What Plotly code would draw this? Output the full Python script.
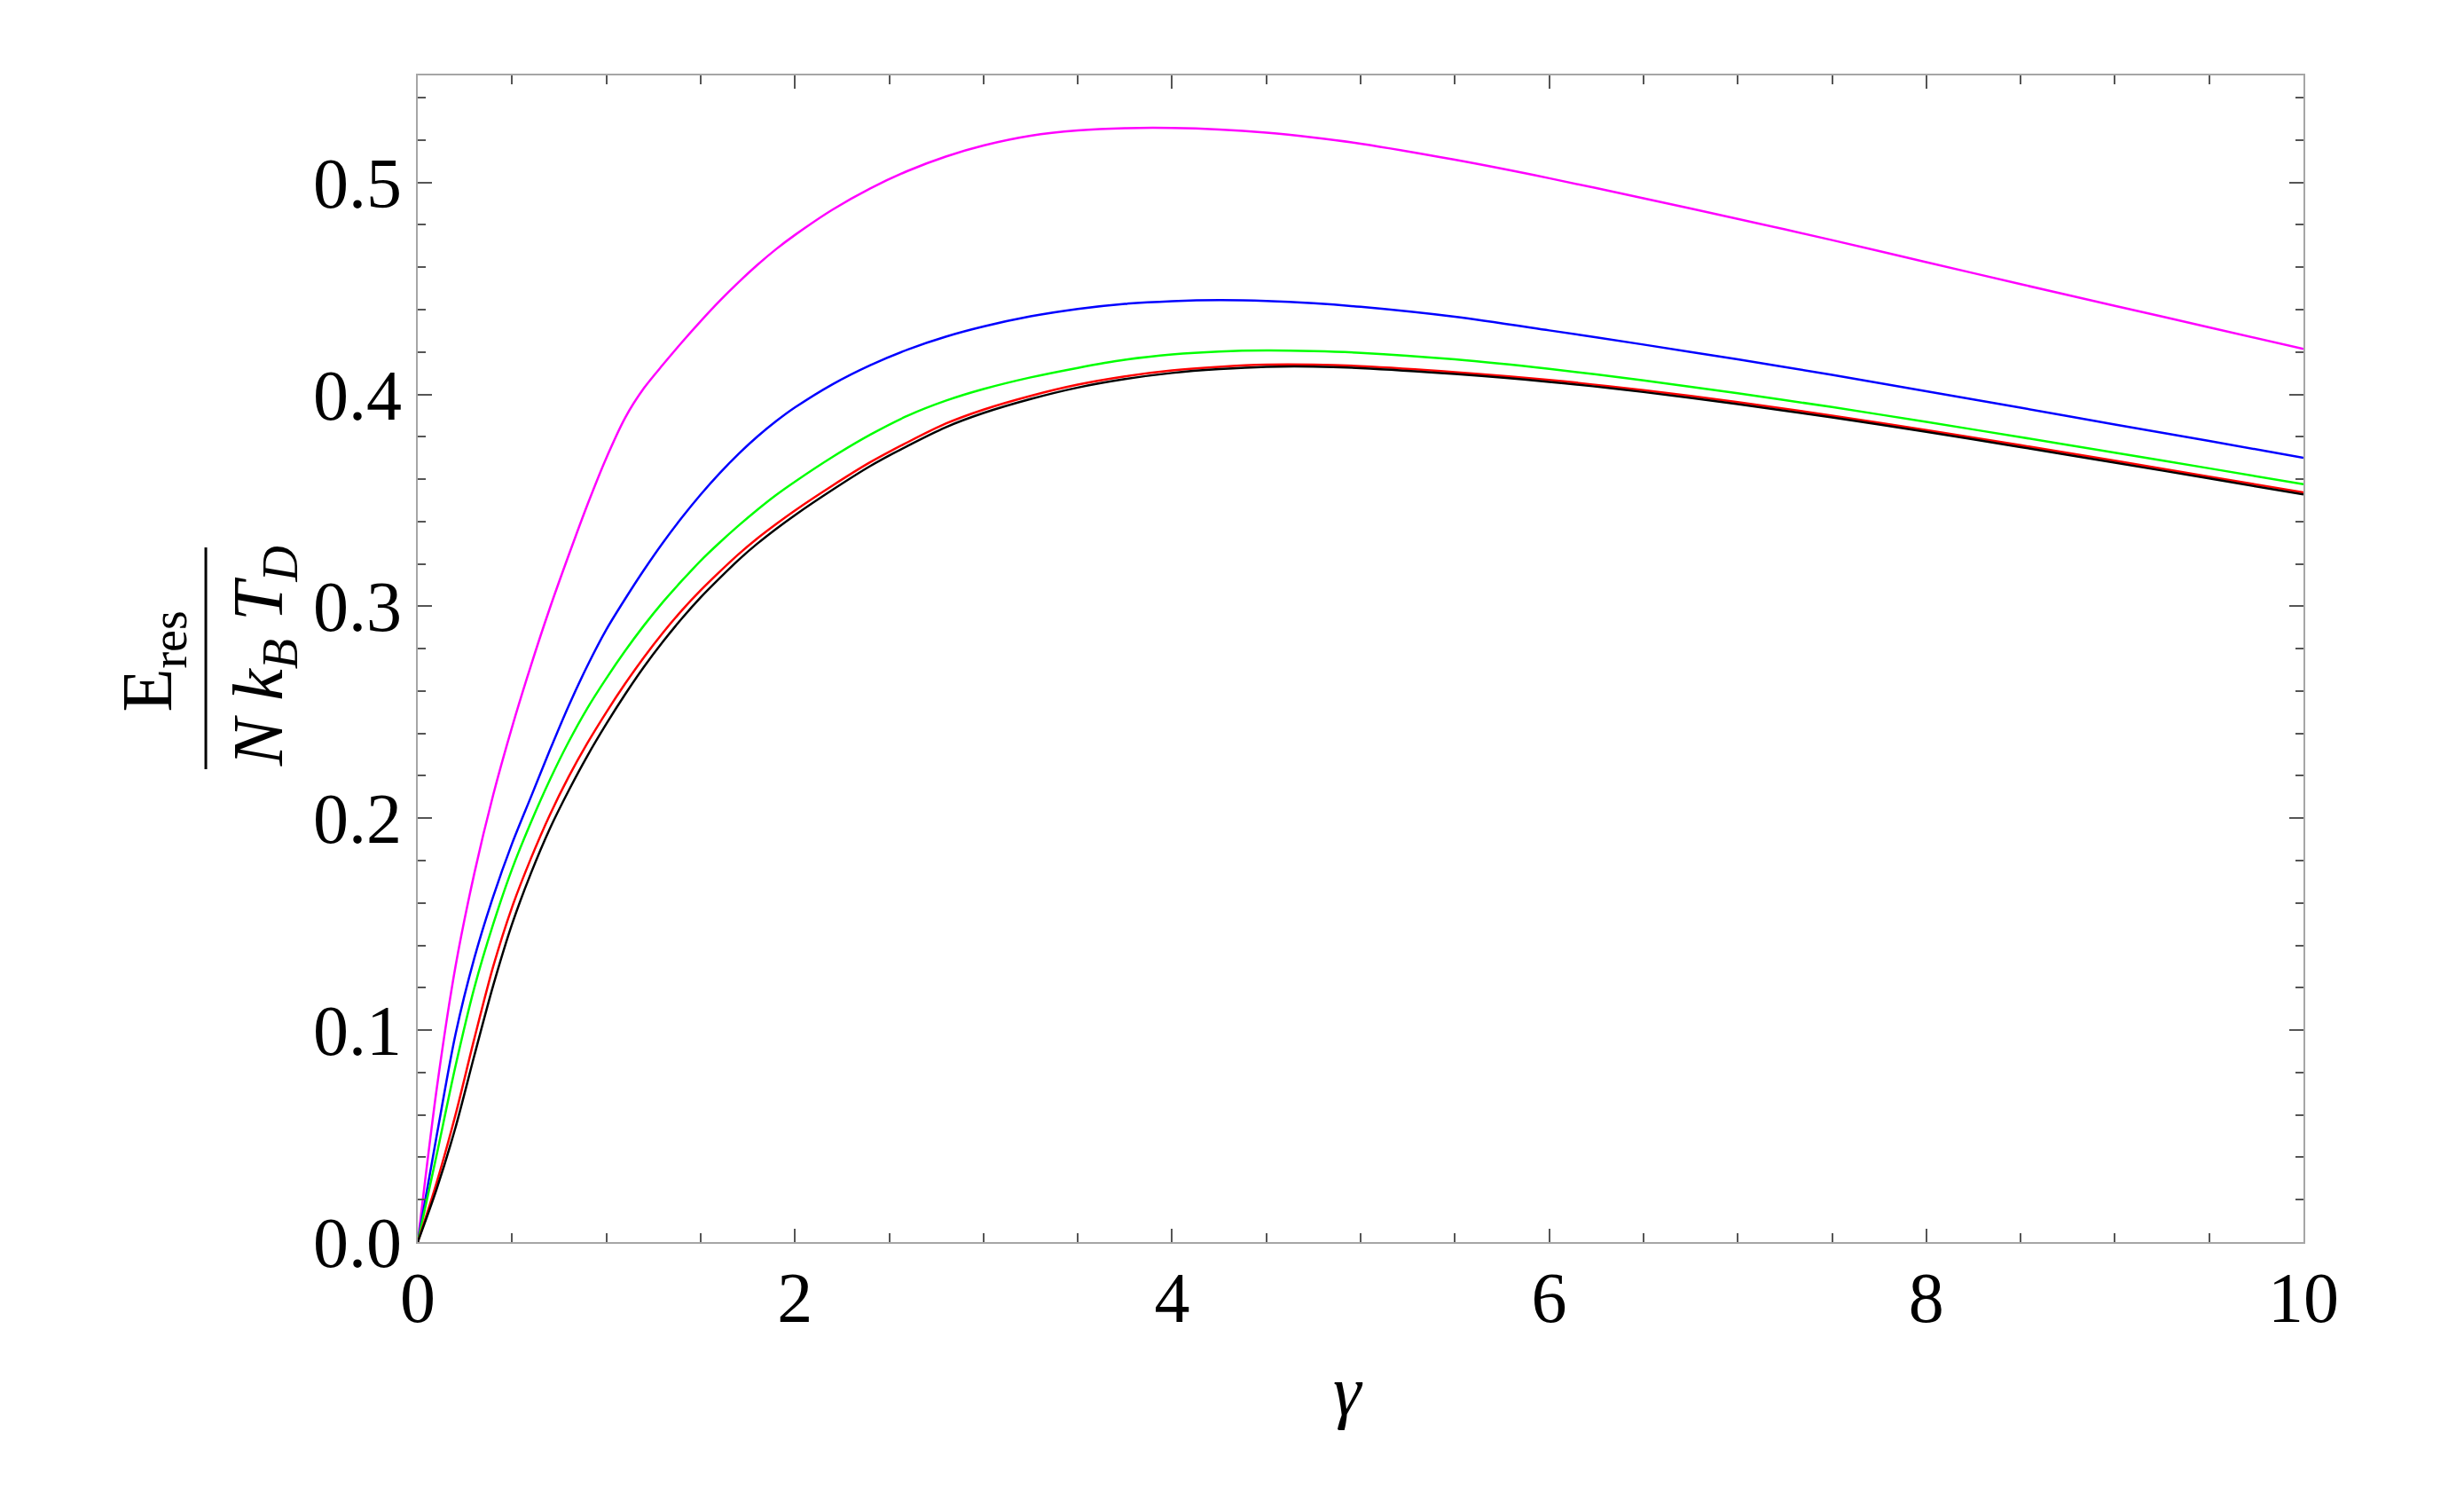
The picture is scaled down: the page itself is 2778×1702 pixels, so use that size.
import plotly.graph_objects as go

# gamma grid shared by all curves
gamma = [0, 0.1, 0.2, 0.3, 0.4, 0.5, 0.6, 0.7, 0.8, 0.9, 1.0, 1.1, 1.2, 1.3, 1.4,
         1.5, 1.6, 1.7, 1.8, 1.9, 2.0, 2.2, 2.4, 2.6, 2.8, 3.0, 3.25, 3.5, 3.75,
         4.0, 4.25, 4.5, 4.75, 5.0, 5.5, 6.0, 6.5, 7.0, 7.5, 8.0, 8.5, 9.0, 9.5, 10.0]

e_magenta = [0, 0.072, 0.130, 0.174, 0.211, 0.243, 0.272, 0.299, 0.324, 0.348, 0.370,
             0.389, 0.403, 0.414, 0.4245, 0.4345, 0.444, 0.4528, 0.461, 0.4685, 0.4752,
             0.4872, 0.4972, 0.5055, 0.5122, 0.5174, 0.522, 0.5245, 0.5256, 0.5257, 0.525,
             0.5235, 0.5212, 0.5183, 0.5107, 0.502, 0.4925, 0.4828, 0.4728, 0.4624, 0.452,
             0.4418, 0.4316, 0.4214]
e_blue = [0, 0.050, 0.098, 0.134, 0.163, 0.188, 0.210, 0.232, 0.253, 0.272, 0.289,
          0.3035, 0.3172, 0.330, 0.3418, 0.3527, 0.3627, 0.3718, 0.380, 0.3873, 0.3938,
          0.4048, 0.4138, 0.4212, 0.4272, 0.432, 0.4368, 0.4403, 0.4427, 0.444, 0.4445,
          0.4441, 0.443, 0.4413, 0.4366, 0.4302, 0.4235, 0.4165, 0.4092, 0.4015, 0.3937,
          0.3858, 0.378, 0.3701]
e_green = [0, 0.041, 0.083, 0.120, 0.150, 0.176, 0.198, 0.218, 0.236, 0.252, 0.266,
           0.279, 0.291, 0.302, 0.312, 0.3215, 0.330, 0.338, 0.3455, 0.3525, 0.3588,
           0.3705, 0.381, 0.390, 0.397, 0.4025, 0.408, 0.4125, 0.4163, 0.4188, 0.4202,
           0.4207, 0.4204, 0.4196, 0.4165, 0.412, 0.4066, 0.4005, 0.394, 0.387, 0.3798,
           0.3725, 0.3651, 0.3576]
e_red = [0, 0.028, 0.060, 0.096, 0.130, 0.158, 0.181, 0.2015, 0.2195, 0.2355, 0.250,
         0.2635, 0.276, 0.2875, 0.298, 0.3075, 0.3162, 0.3245, 0.332, 0.3388, 0.3452,
         0.357, 0.368, 0.3775, 0.3862, 0.3928, 0.3993, 0.4046, 0.4085, 0.4113, 0.413,
         0.414, 0.414, 0.4133, 0.4105, 0.4068, 0.402, 0.3963, 0.39, 0.3832, 0.376,
         0.3687, 0.3612, 0.3537]
e_black = [0, 0.025, 0.054, 0.088, 0.121, 0.150, 0.174, 0.195, 0.213, 0.2295, 0.2445,
           0.2585, 0.2715, 0.2833, 0.2942, 0.3042, 0.3132, 0.3218, 0.3295, 0.3365, 0.343,
           0.355, 0.3662, 0.3758, 0.3845, 0.3912, 0.3978, 0.4032, 0.4072, 0.4101, 0.4119,
           0.413, 0.4131, 0.4124, 0.4096, 0.4059, 0.4011, 0.3954, 0.3891, 0.3823, 0.3751,
           0.3678, 0.3603, 0.3528]

series = [
    (e_magenta, "#ff00ff"),
    (e_blue, "#0000ff"),
    (e_green, "#00ff00"),
    (e_red, "#ff0000"),
    (e_black, "#000000"),
]

FONT = "Liberation Serif, Times New Roman, serif"

fig = go.Figure()
for vals, col in series:
    fig.add_trace(go.Scatter(x=gamma, y=vals, mode="lines",
                             line=dict(color=col, width=2.5, shape="spline", smoothing=0.8),
                             showlegend=False, hoverinfo="skip"))

axis_common = dict(
    showgrid=False, zeroline=False, showline=True, mirror="allticks",
    linecolor="#a6a6a6", linewidth=2,
    ticks="inside", tickcolor="#555555", tickwidth=2,
    tickfont=dict(family=FONT, size=80, color="black"),
)

fig.update_xaxes(range=[0, 10], dtick=2, tick0=0, ticklen=15, ticklabelstandoff=-8,
                 minor=dict(dtick=0.5, ticks="inside", ticklen=10, tickcolor="#555555", tickwidth=2),
                 **axis_common)
fig.update_yaxes(range=[0, 0.5505], dtick=0.1, tick0=0, ticklen=16, tickformat=".1f",
                 minor=dict(dtick=0.02, ticks="inside", ticklen=9, tickcolor="#555555", tickwidth=2),
                 **axis_common)

# y axis label drawn as a stacked fraction, rotated
fig.add_annotation(text="E<sub>res</sub>", xref="paper", yref="paper", x=-0.1405, y=0.498,
                   textangle=-90, showarrow=False, xanchor="center", yanchor="middle",
                   font=dict(family=FONT, size=80, color="black"))
fig.add_annotation(text="<i>N k<sub>B</sub> T<sub>D</sub></i>", xref="paper", yref="paper",
                   x=-0.0817, y=0.502, textangle=-90, showarrow=False,
                   xanchor="center", yanchor="middle",
                   font=dict(family=FONT, size=80, color="black"))
fig.add_shape(type="line", xref="paper", yref="paper", x0=-0.1124, x1=-0.1124,
              y0=0.4053, y1=0.5954, line=dict(color="black", width=3))

fig.add_annotation(text="<i>γ</i>", xref="paper", yref="paper", x=0.4935, y=-0.128,
                   showarrow=False, xanchor="center", yanchor="middle",
                   font=dict(family=FONT, size=80, color="black"))

fig.update_layout(
    width=2778, height=1702,
    margin=dict(l=471, r=181, t=85, b=302),
    paper_bgcolor="white", plot_bgcolor="white",
)

fig.write_html("out.html", config={"displayModeBar": False},
               post_script="document.body.style.margin='0';")
